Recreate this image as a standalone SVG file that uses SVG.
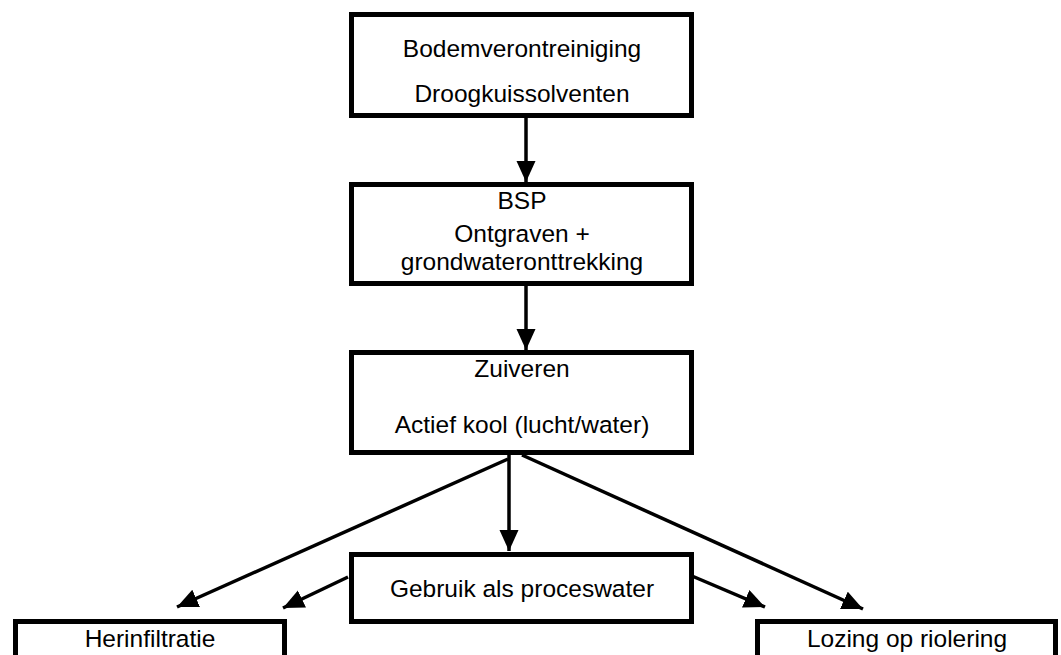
<svg xmlns="http://www.w3.org/2000/svg" width="1061" height="655" viewBox="0 0 1061 655">
<style>
.box{fill:#fff;stroke:#000;stroke-width:5}
.t{font-family:"Liberation Sans",Arial,sans-serif;font-size:24.5px;fill:#000;text-anchor:middle}
.c{stroke:#000;stroke-width:3.5;fill:none;marker-end:url(#ah)}
</style>
<defs>
<marker id="ah" markerUnits="userSpaceOnUse" markerWidth="24" markerHeight="20" refX="21" refY="9.5" orient="auto">
<path d="M0,0 L21,9.5 L0,19 Z" fill="#000"/>
</marker>
</defs>
<rect width="1061" height="655" fill="#fff"/>
<g id="connectors">
<line class="c" x1="526" y1="118" x2="526" y2="182"/>
<line class="c" x1="526" y1="286" x2="526" y2="350"/>
<line class="c" x1="509" y1="455" x2="509" y2="551"/>
<line class="c" x1="508" y1="459" x2="177" y2="607"/>
<line class="c" x1="522" y1="455" x2="863" y2="609"/>
<line class="c" x1="348" y1="577" x2="283" y2="608"/>
<line class="c" x1="692" y1="576" x2="765" y2="607"/>
</g>
<g id="n1">
<rect class="box" x="351.5" y="14.5" width="340" height="101"/>
<text class="t" x="522" y="57">Bodemverontreiniging</text>
<text class="t" x="522" y="102">Droogkuissolventen</text>
</g>
<g id="n2">
<rect class="box" x="351.5" y="184.5" width="340" height="99"/>
<text class="t" x="522" y="209">BSP</text>
<text class="t" x="522" y="242">Ontgraven +</text>
<text class="t" x="522" y="270">grondwateronttrekking</text>
</g>
<g id="n3">
<rect class="box" x="351.5" y="352.5" width="340" height="100"/>
<text class="t" x="522" y="377">Zuiveren</text>
<text class="t" x="522" y="433">Actief kool (lucht/water)</text>
</g>
<g id="n4">
<rect class="box" x="351.5" y="554.5" width="340" height="67"/>
<text class="t" x="522" y="597">Gebruik als proceswater</text>
</g>
<g id="n5">
<rect class="box" x="15.5" y="621.5" width="269" height="50"/>
<text class="t" x="150" y="647">Herinfiltratie</text>
</g>
<g id="n6">
<rect class="box" x="757.5" y="621.5" width="298" height="50"/>
<text class="t" x="907" y="647">Lozing op riolering</text>
</g>
</svg>
